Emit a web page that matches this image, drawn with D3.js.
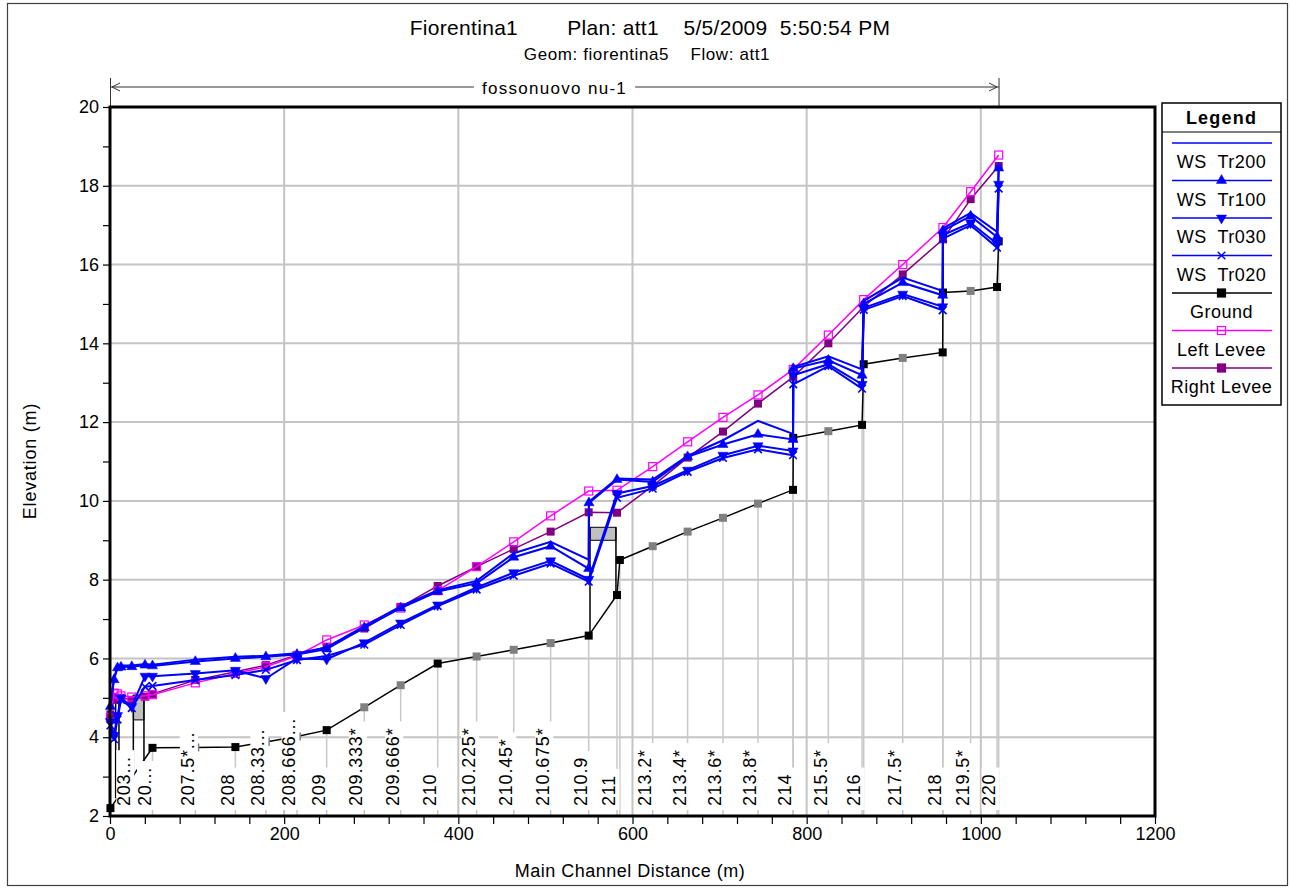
<!DOCTYPE html>
<html><head><meta charset="utf-8">
<script src="https://cdn.jsdelivr.net/npm/d3@7"></script>
<style>
body{margin:0;background:#fff;}
svg text{font-family:"Liberation Sans", Arial, sans-serif;fill:#000;}
</style></head><body>
<svg id="chart" width="1290" height="890"></svg>
<script>
// ---------- data ----------
const stationDist = [0.5,4.6,8.6,12.6,25.0,40.2,48.8,98.0,144.0,179.0,214.7,248.8,292.0,333.8,376.3,421.0,463.6,506.0,549.7,550.0,582.2,585.5,623.2,663.3,703.9,744.1,784.3,784.6,824.9,863.6,865.5,910.3,956.2,956.5,988.3,1018.6,1020.5];
const stationLabels = ["","","","","203...","","20...","207.5*...","208","208.33...","208.666...","209","209.333*","209.666*","210","210.225*","210.45*","210.675*","210.9","","211","","213.2*","213.4*","213.6*","213.8*","214","","215.5*","216","","217.5*","218","","219.5*","220",""];
const interpolated = [0,0,0,0,0,0,0,1,0,1,1,0,1,1,0,1,1,1,0,0,0,0,1,1,1,1,0,0,1,0,0,1,0,0,1,0,0];
const ground     = [2.2,null,null,null,null,null,3.73,3.74,3.75,3.88,4.02,4.18,4.76,5.32,5.87,6.05,6.22,6.39,6.58,null,7.61,8.50,8.85,9.22,9.57,9.93,10.28,11.60,11.77,11.93,13.47,13.63,13.77,15.29,15.33,15.43,16.59];
const leftLevee  = [4.50,5.12,5.10,5.05,5.02,5.05,5.08,5.38,5.62,5.79,6.07,6.47,6.85,7.28,7.72,8.33,8.96,9.62,10.25,null,10.27,null,10.87,11.50,12.12,12.69,null,13.34,14.21,null,15.11,16.00,null,16.94,17.85,null,18.78];
const rightLevee = [4.58,4.95,5.00,5.00,4.95,5.03,5.10,5.45,5.66,5.83,6.09,6.30,6.76,7.31,7.84,8.33,8.78,9.22,9.71,null,9.70,null,10.38,11.10,11.76,12.47,null,13.15,14.00,null,14.93,15.75,null,16.64,17.66,null,18.50];
const wsTr200 = [4.85,5.50,5.80,5.82,5.82,5.86,5.84,5.97,6.04,6.07,6.13,6.28,6.82,7.32,7.73,7.97,8.67,8.96,8.51,9.98,10.57,null,10.54,11.14,11.54,12.03,11.70,13.40,13.67,13.34,15.08,15.67,15.33,16.92,17.31,16.83,18.48];
const wsTr100 = [4.78,5.46,5.76,5.78,5.79,5.83,5.81,5.92,6.00,6.04,6.10,6.24,6.78,7.28,7.70,7.91,8.57,8.85,8.28,9.95,10.54,null,10.48,11.12,11.43,11.69,11.56,13.36,13.57,13.19,15.00,15.54,15.22,16.86,17.23,16.70,18.45];
const wsTr030 = [4.40,4.05,4.55,5.00,4.78,5.55,5.55,5.62,5.70,5.49,6.00,5.98,6.40,6.90,7.36,7.80,8.18,8.48,8.01,null,10.19,null,10.38,10.78,11.16,11.40,11.27,13.19,13.47,12.96,14.90,15.25,14.93,16.75,17.06,16.53,18.04];
const wsTr020 = [4.30,3.95,4.45,4.95,4.74,5.28,5.30,5.45,5.58,5.71,5.96,6.06,6.35,6.85,7.33,7.75,8.10,8.41,7.95,null,10.08,null,10.31,10.74,11.09,11.31,11.16,12.96,13.42,12.85,14.85,15.20,14.84,16.66,17.00,16.43,17.93];
// bridges / culverts
const structFrom = [6.5, 26.8, 551.2];
const structTo   = [10.3, 39.0, 581.0];
const deckTop    = [5.03, 5.07, 9.33];
const deckLow    = [5.03, 4.44, 9.00];
const baseLeft   = [2.45, 2.95, 6.58];
const baseRight  = [2.55, 3.30, 7.61];
const xMajorTicks = [0,200,400,600,800,1000,1200];
const yMajorTicks = [2,4,6,8,10,12,14,16,18,20];
const legendNames = ["WS  Tr200","WS  Tr100","WS  Tr030","WS  Tr020","Ground","Left Levee","Right Levee"];
const reachName = "fossonuovo nu-1";
const reachStart = 0, reachEnd = 1020.9;

// ---------- layout ----------
const svg = d3.select("#chart");
const L = 110, R = 1155, T = 107, B = 816;
const x = d3.scaleLinear().domain([0,1200]).range([L,R]);
const y = d3.scaleLinear().domain([2,20]).range([B,T]);

// outer frame
svg.append("rect").attr("x",7.5).attr("y",3.5).attr("width",1280).attr("height",882)
  .attr("fill","none").attr("stroke","#404040").attr("stroke-width",1.2);

// titles
svg.append("text").attr("x",650).attr("y",35).attr("text-anchor","middle")
  .attr("font-size",21).attr("letter-spacing",0.3).style("white-space","pre")
  .text("Fiorentina1        Plan: att1    5/5/2009  5:50:54 PM");
svg.append("text").attr("x",647).attr("y",60).attr("text-anchor","middle")
  .attr("font-size",17).attr("letter-spacing",0.6).style("white-space","pre")
  .text("Geom: fiorentina5    Flow: att1");

// reach bracket
const rb = svg.append("g").attr("stroke","#333").attr("stroke-width",1).attr("fill","none");
const rx0 = x(reachStart), rx1 = x(reachEnd), ry = 87;
const rt = svg.append("text").attr("x",(rx0+rx1)/2).attr("y",94).attr("text-anchor","middle")
  .attr("font-size",17).attr("letter-spacing",1.3).text(reachName);
const rw = rt.node().getComputedTextLength();
const tc = (rx0+rx1)/2;
rb.append("line").attr("x1",rx0).attr("x2",tc-rw/2-8).attr("y1",ry).attr("y2",ry);
rb.append("line").attr("x1",tc+rw/2+8).attr("x2",rx1).attr("y1",ry).attr("y2",ry);
rb.append("line").attr("x1",rx0+0.5).attr("x2",rx0+0.5).attr("y1",78).attr("y2",T);
rb.append("line").attr("x1",rx1).attr("x2",rx1).attr("y1",78).attr("y2",T);
rb.append("path").attr("d",`M${rx0+10},${ry-4} L${rx0+2},${ry} L${rx0+10},${ry+4}`);
rb.append("path").attr("d",`M${rx1-10},${ry-4} L${rx1-2},${ry} L${rx1-10},${ry+4}`);

// grid
const grid = svg.append("g").attr("stroke","#c4c4c4").attr("stroke-width",2);
xMajorTicks.filter(v=>v>0&&v<1200).forEach(v=>grid.append("line").attr("x1",x(v)).attr("x2",x(v)).attr("y1",T).attr("y2",B));
yMajorTicks.filter(v=>v>2&&v<20).forEach(v=>grid.append("line").attr("y1",y(v)).attr("y2",y(v)).attr("x1",L).attr("x2",R));

// station lines (from ground down)
const st = stationDist.map((d,i)=>({d,i,label:stationLabels[i],interp:interpolated[i],g:ground[i]}));
const stLines = svg.append("g").attr("stroke","#c8c8c8").attr("stroke-width",1.5);
st.filter(s=>s.g!==null).forEach(s=>{
  stLines.append("line").attr("x1",x(s.d)).attr("x2",x(s.d)).attr("y1",y(s.g)).attr("y2",B);
});

// structures
const sg = svg.append("g");
structFrom.forEach((f,i)=>{
  if (deckTop[i]>deckLow[i]) {
    sg.append("rect").attr("x",x(f)).attr("y",y(deckTop[i])).attr("width",x(structTo[i])-x(f))
      .attr("height",y(deckLow[i])-y(deckTop[i])).attr("fill","#c0c0c0").attr("stroke","#000").attr("stroke-width",1);
  }
  sg.append("line").attr("x1",x(f)).attr("x2",x(f)).attr("y1",y(deckTop[i])).attr("y2",y(baseLeft[i]))
    .attr("stroke","#000").attr("stroke-width",1.5);
  sg.append("line").attr("x1",x(structTo[i])).attr("x2",x(structTo[i])).attr("y1",y(deckTop[i])).attr("y2",y(baseRight[i]))
    .attr("stroke","#000").attr("stroke-width",1.5);
});

function pts(arr){ return stationDist.map((d,i)=>[d,arr[i],i]).filter(p=>p[1]!==null); }
const line = d3.line().x(p=>x(p[0])).y(p=>y(p[1]));

// ground
const gp = pts(ground);
svg.append("path").attr("d",line(gp)).attr("fill","none").attr("stroke","#000").attr("stroke-width",1.5);
svg.append("g").selectAll("rect").data(gp).join("rect")
  .attr("x",p=>x(p[0])-4).attr("y",p=>y(p[1])-4).attr("width",8).attr("height",8)
  .attr("fill",p=>interpolated[p[2]]?"#808080":"#000");

// levees
const ll = pts(leftLevee), rl = pts(rightLevee);
svg.append("path").attr("d",line(rl)).attr("fill","none").attr("stroke","#800080").attr("stroke-width",1.5);
svg.append("g").selectAll("rect").data(rl).join("rect")
  .attr("x",p=>x(p[0])-4).attr("y",p=>y(p[1])-4).attr("width",8).attr("height",8).attr("fill","#800080");
svg.append("path").attr("d",line(ll)).attr("fill","none").attr("stroke","#ff00ff").attr("stroke-width",1.5);
svg.append("g").selectAll("rect").data(ll).join("rect")
  .attr("x",p=>x(p[0])-4).attr("y",p=>y(p[1])-4).attr("width",8).attr("height",8)
  .attr("fill","none").attr("stroke","#ff00ff").attr("stroke-width",1.2);

// water surfaces
const blue = "#0000ff";
const tri = d3.symbol().type(d3.symbolTriangle).size(45);
const xs = d3.symbol().type(d3.symbolX).size(40);
function markerPath(kind){ return kind==="up"?tri():kind==="down"?tri():kind==="x"?xs():null; }
const wsSeries = [[wsTr200,null],[wsTr100,"up"],[wsTr030,"down"],[wsTr020,"x"]];
wsSeries.forEach(([arr,m])=>{
  const p = pts(arr);
  svg.append("path").attr("d",line(p)).attr("fill","none").attr("stroke",blue).attr("stroke-width",2);
});
wsSeries.forEach(([arr,m])=>{
  if(!m) return;
  const p = pts(arr);
  svg.append("g").selectAll("path").data(p).join("path")
    .attr("d",markerPath(m))
    .attr("transform",q=>`translate(${x(q[0])},${y(q[1])})${m==="down"?" rotate(180)":""}`)
    .attr("fill",m==="x"?"none":blue).attr("stroke",blue).attr("stroke-width",m==="x"?1.6:0.5);
});

// station labels with white boxes
const lg = svg.append("g");
st.filter(s=>s.label).forEach(s=>{
  const px = x(s.d);
  const g = lg.append("g");
  const box = g.append("rect").attr("fill","#fff");
  const t = g.append("text").attr("transform",`translate(${px-1.8},806) rotate(-90)`)
    .attr("font-size",18).attr("letter-spacing",0.8).text(s.label);
  const len = t.node().getComputedTextLength();
  box.attr("x",px-15.5).attr("width",18).attr("y",806-len-6).attr("height",len+10);
});

// plot border
svg.append("rect").attr("x",L).attr("y",T).attr("width",R-L).attr("height",B-T)
  .attr("fill","none").attr("stroke","#000").attr("stroke-width",3);

// axes
const xAxis = d3.axisBottom(x).tickValues(d3.range(0,1201,40)).tickSize(7).tickPadding(3)
  .tickFormat(v=>xMajorTicks.includes(v)?v:"");
const gx = svg.append("g").attr("transform",`translate(0,${B+1})`).call(xAxis);
const yAxis = d3.axisLeft(y).tickValues(d3.range(2,20.5,1)).tickSize(6).tickPadding(4)
  .tickFormat(v=>yMajorTicks.includes(v)?v:"");
const gy = svg.append("g").attr("transform",`translate(${L-1},0)`).call(yAxis);
[gx,gy].forEach(g=>{
  g.select(".domain").remove();
  g.selectAll("text").attr("font-size",18).attr("font-family","Liberation Sans, Arial, sans-serif").attr("fill","#000");
  g.selectAll("line").attr("stroke","#000").attr("stroke-width",1.2);
});

// axis titles
svg.append("text").attr("x",630).attr("y",877).attr("text-anchor","middle")
  .attr("font-size",18).attr("letter-spacing",0.5).text("Main Channel Distance (m)");
svg.append("text").attr("transform","translate(36,461) rotate(-90)").attr("text-anchor","middle")
  .attr("font-size",18).attr("letter-spacing",0.8).text("Elevation (m)");

// legend
const lx0 = 1162, lx1 = 1281, ly0 = 103, ly1 = 405;
const leg = svg.append("g");
leg.append("rect").attr("x",lx0).attr("y",ly0).attr("width",lx1-lx0).attr("height",ly1-ly0)
  .attr("fill","#fff").attr("stroke","#000").attr("stroke-width",1.5);
leg.append("line").attr("x1",lx0).attr("x2",lx1).attr("y1",132).attr("y2",132).attr("stroke","#000").attr("stroke-width",1.2);
leg.append("text").attr("x",(lx0+lx1)/2).attr("y",124).attr("text-anchor","middle")
  .attr("font-size",18).attr("font-weight","bold").attr("letter-spacing",1.2).text("Legend");
const legStyles = [
  {c:blue,m:null},{c:blue,m:"up"},{c:blue,m:"down"},{c:blue,m:"x"},
  {c:"#000",m:"sq",f:"#000"},{c:"#ff00ff",m:"sq",f:"none"},{c:"#800080",m:"sq",f:"#800080"}];
legendNames.forEach((name,i)=>{
  const ly = 143 + i*37.5, cx = (lx0+lx1)/2;
  const s = legStyles[i];
  leg.append("line").attr("x1",1172).attr("x2",1272).attr("y1",ly).attr("y2",ly)
    .attr("stroke",s.c).attr("stroke-width",1.5);
  if (s.m==="sq") {
    leg.append("rect").attr("x",cx-4).attr("y",ly-4).attr("width",8).attr("height",8)
      .attr("fill",s.f).attr("stroke",s.c).attr("stroke-width",1.2);
  } else if (s.m) {
    leg.append("path").attr("d",markerPath(s.m))
      .attr("transform",`translate(${cx},${ly})${s.m==="down"?" rotate(180)":""}`)
      .attr("fill",s.m==="x"?"none":blue).attr("stroke",blue).attr("stroke-width",s.m==="x"?1.4:0.5);
  }
  leg.append("text").attr("x",cx).attr("y",ly+25).attr("text-anchor","middle")
    .attr("font-size",18).attr("letter-spacing",0.5).style("white-space","pre").text(name);
});
</script>
</body></html>
